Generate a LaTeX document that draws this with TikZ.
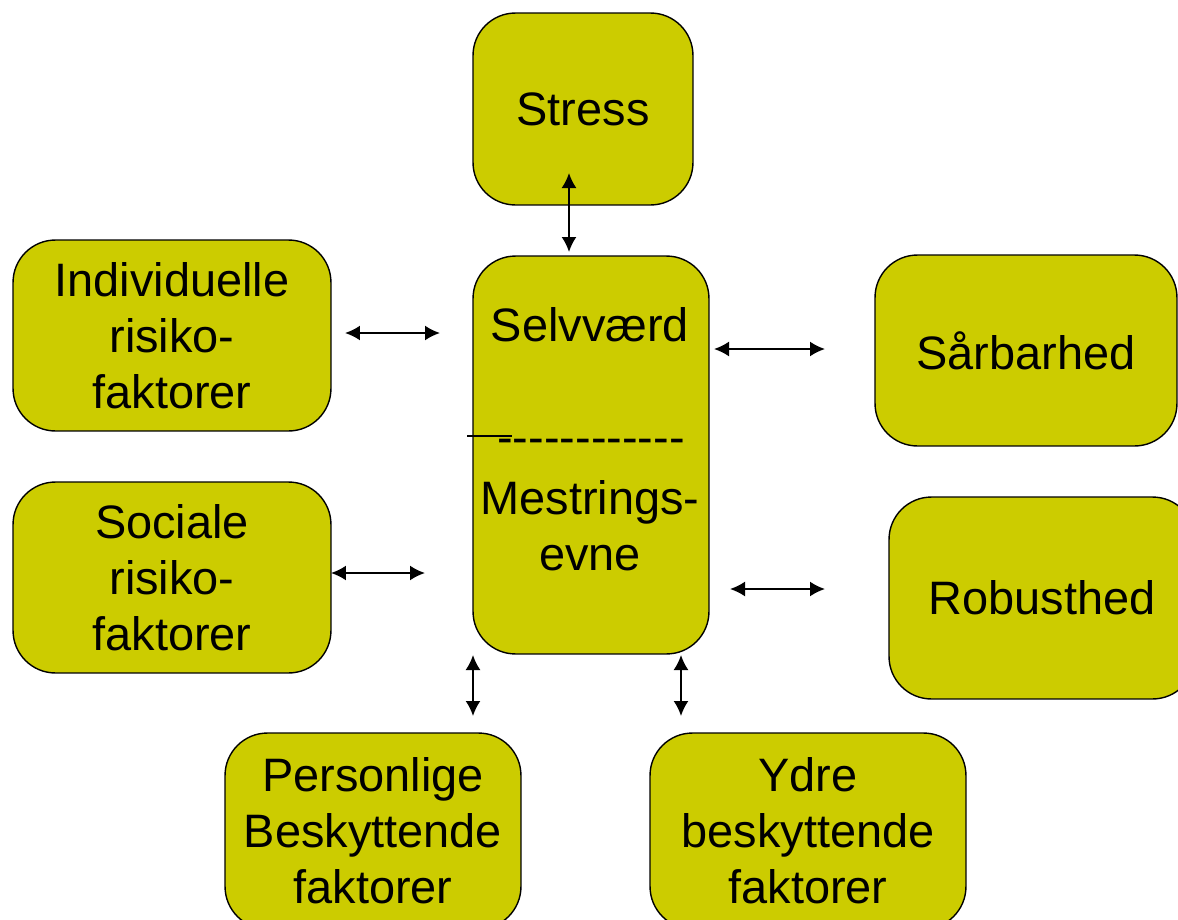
\documentclass[tikz,border=0pt]{standalone}
\usepackage{fontspec}
\setmainfont{Liberation Sans}
\usepackage{xcolor}
\usepackage{tikz}
\usetikzlibrary{arrows.meta, positioning}

\definecolor{boxgul}{RGB}{204,204,0}

\begin{document}
\begin{tikzpicture}[x=0.02cm, y=-0.02cm, >={Latex[length=3mm,width=3mm]},
    boks/.style={draw=black, line width=0.8pt, fill=boxgul, rounded corners=0.85cm,
        align=center, inner sep=2pt},
    tekst/.style={align=center, inner sep=0pt},
    link/.style={<->, line width=1.1pt}]
    \useasboundingbox (0,0) rectangle (1178,920);
    \clip (0,0) rectangle (1178,920);
    \fontsize{26.7}{31.9}\selectfont

    % Kasser
    \node[boks, minimum width=4.4cm, minimum height=3.84cm] (stress) at (583,109) {Stress};
    \node[boks, minimum width=4.72cm, minimum height=7.96cm] (selv) at (591,455) {};
    \node[boks, minimum width=6.36cm, minimum height=3.82cm] (indiv) at (172,335.5)
        {Individuelle\\risiko-\\faktorer};
    \node[boks, minimum width=6.36cm, minimum height=3.82cm] (social) at (172,577.5)
        {Sociale\\risiko-\\faktorer};
    \node[boks, minimum width=6.04cm, minimum height=3.82cm] (saar) at (1026,350.5) {Sårbarhed};
    \node[boks, minimum width=6.12cm, minimum height=4.04cm] (robust) at (1042,598) {Robusthed};
    \node[boks, minimum width=5.92cm, minimum height=3.92cm] (pers) at (373,831)
        {Personlige\\Beskyttende\\faktorer};
    \node[boks, minimum width=6.32cm, minimum height=3.92cm] (ydre) at (808,831)
        {Ydre\\beskyttende\\faktorer};

    % Tekst i midterkassen
    \node[tekst] (selvtxt) at (590,325) {Selvværd};
    \node[tekst] (streg) at (591,446) {\foreach \k in {1,...,12}{-\kern0pt}};
    \node[tekst] (mest) at (590,526) {Mestrings-\\evne};
    \coordinate (ls) at (467,436);
    \coordinate (le) at (512,436);
    \draw[line width=0.7pt] (ls) -- (le);

    % Pile
    \coordinate (s1) at (569,173);  \coordinate (s2) at (569,252);
    \coordinate (i1) at (345,333);  \coordinate (i2) at (440,333);
    \coordinate (a1) at (714,349);  \coordinate (a2) at (825,349);
    \coordinate (o1) at (331,573);  \coordinate (o2) at (425,573);
    \coordinate (r1) at (730,589);  \coordinate (r2) at (825,589);
    \coordinate (p1) at (473,655);  \coordinate (p2) at (473,716);
    \coordinate (y1) at (681,655);  \coordinate (y2) at (681,716);
    \draw[link] (s1) -- (s2);
    \draw[link] (i1) -- (i2);
    \draw[link] (a1) -- (a2);
    \draw[link] (o1) -- (o2);
    \draw[link] (r1) -- (r2);
    \draw[link] (p1) -- (p2);
    \draw[link] (y1) -- (y2);
\end{tikzpicture}
\end{document}
